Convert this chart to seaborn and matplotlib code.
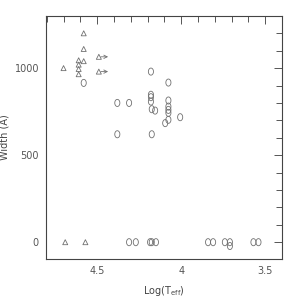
import numpy as np
import pandas as pd
import seaborn as sns
import matplotlib
matplotlib.use("Agg")
import matplotlib.pyplot as plt
from matplotlib.path import Path
from matplotlib.ticker import MultipleLocator

# triangles (open)
tri_teff = [4.70, 4.58, 4.58, 4.58, 4.61, 4.61, 4.61, 4.61, 4.69, 4.57]
tri_width = [1000, 1200, 1110, 1040, 1045, 1020, 995, 965, 0, 0]

# triangles with arrows (limits)
lim_teff = [4.49, 4.49]
lim_width = [1065, 980]

# circles (open)
circ_teff = [4.58, 4.38, 4.31, 4.38, 4.18, 4.076, 4.18, 4.18, 4.18, 4.175, 4.155,
             4.076, 4.076, 4.076, 4.076, 4.076, 4.095, 4.006, 4.175,
             4.31, 4.27, 4.185, 4.175, 4.15, 3.84, 3.81, 3.74, 3.71, 3.71, 3.57, 3.54]
circ_width = [915, 800, 800, 620, 980, 917, 847, 833, 808, 764, 756,
              814, 779, 760, 743, 703, 684, 718, 620,
              0, 0, 0, 0, 0, 0, 0, 0, 0, -22, 0, 0]

sns.set_style("white")
plt.rcParams['font.family'] = ['DejaVu Sans']

fig = plt.figure(figsize=(3, 3), dpi=100)
ax = fig.add_axes([0.153, 0.137, 0.787, 0.81])

# tall oval marker, like a letter O
t = np.linspace(0, 2 * np.pi, 40)
oval = Path(np.column_stack([0.72 * np.cos(t), np.sin(t)]))

pt_color = "#707070"
df_c = pd.DataFrame({"teff": circ_teff, "width": circ_width})
df_t = pd.DataFrame({"teff": tri_teff + lim_teff, "width": tri_width + lim_width})

sns.scatterplot(data=df_c, x="teff", y="width", marker=oval, s=26,
                facecolor="none", edgecolor=pt_color, linewidth=0.6, ax=ax)
sns.scatterplot(data=df_t, x="teff", y="width", marker="^", s=13,
                facecolor="none", edgecolor=pt_color, linewidth=0.6, ax=ax)

# arrows to the right of the limit triangles
for x, y in zip(lim_teff, lim_width):
    ax.annotate("", xy=(x - 0.055, y), xytext=(x - 0.012, y),
                arrowprops=dict(arrowstyle="->", color=pt_color, lw=0.6,
                                shrinkA=0, shrinkB=0, mutation_scale=6))

ax.set_xlim(4.805, 3.40)
ax.set_ylim(-96, 1300)
ax.xaxis.set_minor_locator(MultipleLocator(0.1))
ax.yaxis.set_major_locator(MultipleLocator(500))
ax.yaxis.set_minor_locator(MultipleLocator(100))
ax.set_xticks([4.5, 4.0, 3.5])
ax.set_xticklabels(["4.5", "4", "3.5"])
ax.tick_params(which="both", top=True, right=True, direction="in",
               colors="#555555", labelsize=7, width=0.7)
ax.tick_params(which="major", length=6, pad=5)
ax.tick_params(which="minor", length=4)
for s in ax.spines.values():
    s.set_color("#444444")
    s.set_linewidth(0.8)

ax.set_xlabel("Log(T$_{\\rm eff}$)", fontsize=7, color="#444444", labelpad=6)
ax.set_ylabel("Width (Å)", fontsize=7, color="#444444", labelpad=3)

fig.savefig("out.png", dpi=100)
